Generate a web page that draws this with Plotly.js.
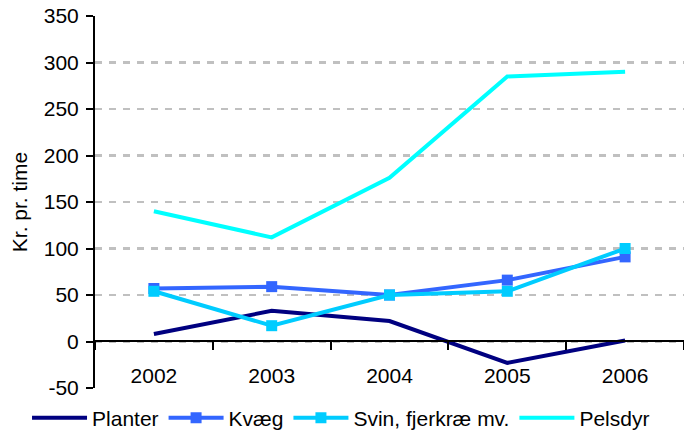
<!DOCTYPE html>
<html>
<head>
<meta charset="utf-8">
<script src="https://cdn.plot.ly/plotly-3.0.1.min.js"></script>
<style>html,body{margin:0;padding:0;background:#fff;}#chart{width:684px;height:440px;}</style>
</head>
<body>
<div id="chart"></div>
<script>
const years = ["2002", "2003", "2004", "2005", "2006"];
const planter = [8, 33, 22, -23, 1];
const kvaeg = [57, 59, 50, 66, 91];
const svin = [54, 17, 50, 54, 100];
const pelsdyr = [140, 112, 176, 285, 290];
const seriesNames = ["Planter", "Kvæg", "Svin, fjerkræ mv.", "Pelsdyr"];
const yTicks = [-50, 0, 50, 100, 150, 200, 250, 300, 350];

const FONT = "Arial, 'Liberation Sans', sans-serif";

const traces = [
  {x: years, y: planter, name: seriesNames[0], mode: "lines", line: {color: "#000080", width: 4}},
  {x: years, y: kvaeg, name: seriesNames[1], mode: "lines+markers", line: {color: "#3366FF", width: 4}, marker: {symbol: "square", size: 11, color: "#3366FF"}},
  {x: years, y: svin, name: seriesNames[2], mode: "lines+markers", line: {color: "#00CCFF", width: 4}, marker: {symbol: "square", size: 11, color: "#00CCFF"}},
  {x: years, y: pelsdyr, name: seriesNames[3], mode: "lines", line: {color: "#00FFFF", width: 4}}
];

const layout = {
  width: 684, height: 440,
  margin: {l: 95, r: 0, t: 16, b: 30},
  paper_bgcolor: "#fff", plot_bgcolor: "#fff",
  font: {family: FONT, size: 21, color: "#000"},
  showlegend: true,
  legend: {orientation: "h", x: -0.1154, xref: "paper", y: -0.0203, yref: "paper", yanchor: "middle", xanchor: "left",
           font: {family: FONT, size: 21}, itemwidth: 55, tracegroupgap: 0, traceorder: "normal"},
  xaxis: {
    type: "category", range: [-0.5, 4.5],
    anchor: "free", position: 0.1739,
    showline: true, linecolor: "#000", linewidth: 2,
    ticks: "outside", ticklen: 8, tickwidth: 2, tickcolor: "#000", tickson: "boundaries",
    ticklabelstandoff: 15,
    showgrid: false, zeroline: false,
    tickfont: {family: FONT, size: 21}
  },
  yaxis: {
    domain: [0.0558, 1],
    range: [-50, 350], tickvals: yTicks, ticktext: yTicks.map(String),
    showline: true, linecolor: "#000", linewidth: 2,
    ticks: "outside", ticklen: 7, tickwidth: 2, tickcolor: "#000",
    ticklabelstandoff: 3,
    showgrid: true, gridcolor: "#C0C0C0", griddash: "7px,7px", gridwidth: 2.5,
    zeroline: false,
    tickfont: {family: FONT, size: 21},
    title: {text: "Kr. pr. time", font: {family: FONT, size: 21}, standoff: 10}
  },
  yaxis2: {
    range: [-50, 350], tickvals: yTicks, overlaying: "y", anchor: "x", side: "left",
    showline: false, ticks: "inside", ticklen: 6, tickwidth: 2, tickcolor: "#000",
    showticklabels: false, showgrid: false, zeroline: false
  }
};

Plotly.newPlot("chart", traces, layout, {displayModeBar: false, staticPlot: true});
</script>
</body>
</html>
